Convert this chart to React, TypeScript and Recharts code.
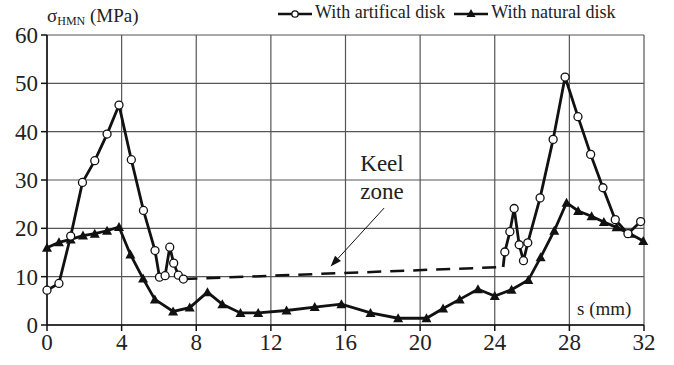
import React from 'react';
import { LineChart, Line, XAxis, YAxis, CartesianGrid, ReferenceLine } from 'recharts';

// s (mm) / sigma (MPa)
const artificialLeftS = [0, 0.64, 1.27, 1.9, 2.56, 3.22, 3.86, 4.52, 5.17, 5.79, 6.03, 6.33, 6.58, 6.79, 7.04, 7.31];
const artificialLeftV = [7.2, 8.6, 18.4, 29.5, 34.0, 39.5, 45.5, 34.2, 23.7, 15.4, 9.9, 10.2, 16.1, 12.8, 10.3, 9.5];

const artificialRightS = [24.45, 24.54, 24.81, 25.04, 25.31, 25.54, 25.77, 26.43, 27.13, 27.77, 28.46, 29.14, 29.8, 30.46, 31.14, 31.82];
const artificialRightV = [12.0, 15.1, 19.3, 24.1, 16.6, 13.3, 17.0, 26.3, 38.4, 51.3, 43.1, 35.3, 28.4, 21.8, 18.9, 21.4];

const keelS = [7.31, 24.45];
const keelV = [9.5, 12.0];

const naturalS = [0, 0.64, 1.27, 1.93, 2.56, 3.22, 3.86, 4.47, 5.15, 5.78, 6.76, 7.65, 8.6, 9.4, 10.37, 11.32, 12.84, 14.35, 15.78, 17.34, 18.82, 20.34, 21.23, 22.12, 23.1, 24.0, 24.9, 25.8, 26.46, 27.19, 27.85, 28.47, 29.19, 29.85, 30.53, 31.25, 31.96];
const naturalV = [16.0, 17.1, 17.7, 18.5, 18.9, 19.5, 20.3, 14.6, 9.6, 5.3, 2.8, 3.6, 6.8, 4.3, 2.5, 2.5, 3.0, 3.7, 4.3, 2.5, 1.4, 1.4, 3.4, 5.3, 7.4, 6.0, 7.3, 9.3, 14.0, 19.5, 25.3, 23.6, 22.5, 21.3, 20.2, 18.9, 17.4];

const xTicks = [0, 4, 8, 12, 16, 20, 24, 28, 32];
const yTicks = [0, 10, 20, 30, 40, 50, 60];

const toRows = (s: number[], v: number[]) => s.map((x, i) => ({ s: x, v: v[i] }));

const FONT = '"Liberation Serif", "Times New Roman", Times, Tinos, "DejaVu Serif", "Noto Serif", serif';

const CircleDot = (props: any) => {
  const { cx, cy, index, skipFirst } = props;
  if (skipFirst && index === 0) return <g key={`c${index}`} />;
  return <circle key={`c${index}`} cx={cx} cy={cy} r={4} fill="#fff" stroke="#111" strokeWidth={1.3} />;
};

const TriangleDot = (props: any) => {
  const { cx, cy, index } = props;
  const r = 5;
  return (
    <polygon
      key={`t${index}`}
      points={`${cx},${cy - r} ${cx - r},${cy + r * 0.8} ${cx + r},${cy + r * 0.8}`}
      fill="#111"
    />
  );
};

const Arrow = (props: any) => {
  const { x1, y1, x2, y2 } = props;
  const a = Math.atan2(y2 - y1, x2 - x1);
  const L = 11, W = 4;
  const bx = x2 - L * Math.cos(a), by = y2 - L * Math.sin(a);
  const px = -Math.sin(a) * W, py = Math.cos(a) * W;
  return (
    <g>
      <line x1={x1} y1={y1} x2={bx} y2={by} stroke="#111" strokeWidth={1} />
      <polygon points={`${x2},${y2} ${bx + px},${by + py} ${bx - px},${by - py}`} fill="#111" />
    </g>
  );
};

const tickStyle = { fontFamily: FONT, fontSize: 23, fill: '#222' };

export default function App() {
  return (
    <div style={{ position: 'absolute', left: 0, top: 0, width: 674, height: 365, background: '#fff', fontFamily: FONT, color: '#222' }}>
      <LineChart width={674} height={365} margin={{ top: 35, right: 30, left: 0, bottom: 0 }}>
        <CartesianGrid stroke="#555" strokeWidth={1.2} />
        <XAxis
          type="number"
          dataKey="s"
          domain={[0, 32]}
          ticks={xTicks}
          height={40}
          tick={tickStyle}
          tickSize={6}
          tickMargin={3}
          stroke="#111"
          strokeWidth={1.5}
          allowDuplicatedCategory={false}
        />
        <YAxis
          type="number"
          dataKey="v"
          domain={[0, 60]}
          ticks={yTicks}
          width={47}
          tick={tickStyle}
          tickSize={6}
          tickMargin={3}
          stroke="#111"
          strokeWidth={1.5}
        />
        <ReferenceLine segment={[{ x: 18.07, y: 24.2 }, { x: 15.2, y: 12.1 }]} shape={Arrow} ifOverflow="visible" />
        <Line data={toRows(keelS, keelV)} dataKey="v" stroke="#111" strokeWidth={2.5} strokeDasharray="14 9" dot={false} isAnimationActive={false} />
        <Line data={toRows(naturalS, naturalV)} dataKey="v" stroke="#111" strokeWidth={2.8} dot={TriangleDot} isAnimationActive={false} />
        <Line data={toRows(artificialLeftS, artificialLeftV)} dataKey="v" stroke="#111" strokeWidth={2.8} dot={CircleDot} isAnimationActive={false} />
        <Line data={toRows(artificialRightS, artificialRightV)} dataKey="v" stroke="#111" strokeWidth={2.8} dot={(p: any) => <CircleDot {...p} skipFirst />} isAnimationActive={false} />
      </LineChart>

      {/* y-axis title */}
      <div style={{ position: 'absolute', left: 47, top: 5, fontSize: 19, whiteSpace: 'nowrap' }}>
        σ<sub style={{ fontSize: 12, verticalAlign: '-3px' }}>HMN</sub> (MPa)
      </div>

      {/* legend */}
      <div style={{ position: 'absolute', left: 277, top: 2, fontSize: 18, whiteSpace: 'nowrap', display: 'flex', alignItems: 'center' }}>
        <svg width={36} height={20}>
          <line x1={1} y1={11} x2={35} y2={11} stroke="#111" strokeWidth={2.5} />
          <circle cx={18} cy={11} r={3.2} fill="#fff" stroke="#111" strokeWidth={1.3} />
        </svg>
        <span style={{ marginLeft: 2 }}>With artifical disk</span>
        <svg width={36} height={20} style={{ marginLeft: 8 }}>
          <line x1={1} y1={11} x2={35} y2={11} stroke="#111" strokeWidth={2.5} />
          <polygon points="18,6 13.5,14 22.5,14" fill="#111" />
        </svg>
        <span style={{ marginLeft: 2 }}>With natural disk</span>
      </div>

      {/* annotations */}
      <div style={{ position: 'absolute', left: 342, top: 150, width: 80, textAlign: 'center', fontSize: 23, lineHeight: '28px' }}>
        Keel<br />zone
      </div>
      <div style={{ position: 'absolute', left: 577, top: 298, fontSize: 19, whiteSpace: 'nowrap' }}>s (mm)</div>
    </div>
  );
}
